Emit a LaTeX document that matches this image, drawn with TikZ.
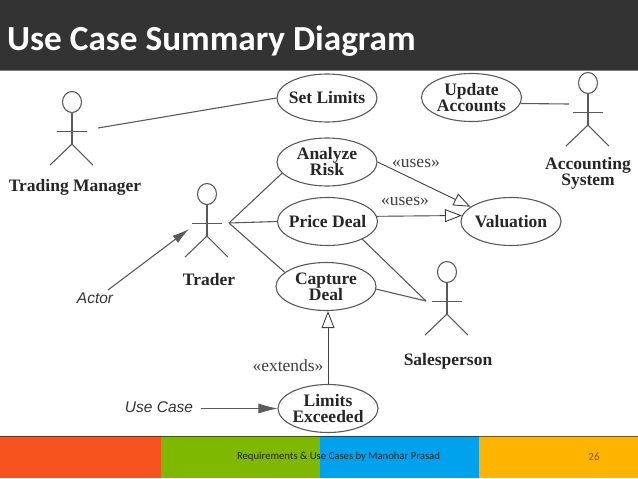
\documentclass[tikz,border=0pt]{standalone}
\usepackage{fontspec}
\setmainfont{Liberation Serif}
\setsansfont{Liberation Sans}
\newfontfamily\slidefont{Carlito}
\usetikzlibrary{shapes.geometric,arrows.meta}
\definecolor{headbar}{HTML}{333333}
\definecolor{linegray}{HTML}{5A5A5A}
\definecolor{footred}{HTML}{F55220}
\definecolor{footgreen}{HTML}{7FB800}
\definecolor{footblue}{HTML}{00A2EE}
\definecolor{footamber}{HTML}{FFB400}
\tikzset{
	usecase/.style={draw=linegray, line width=1.1pt, ellipse, minimum width=100pt, minimum height=48pt, inner sep=-6pt, align=center, font=\fontsize{17.5}{16}\selectfont\bfseries, text=black!85},
	actorhead/.style={draw=linegray, line width=1.1pt, ellipse, minimum width=19pt, minimum height=21pt, inner sep=0pt},
	actorline/.style={draw=linegray, line width=1.1pt},
	actorname/.style={align=center, font=\fontsize{17.5}{16.2}\selectfont\bfseries, text=black!85},
	assoc/.style={draw=linegray, line width=1.1pt},
	stereo/.style={font=\fontsize{17.5}{15}\selectfont, text=black!75},
	callout/.style={font=\fontsize{15.5}{16}\selectfont\sffamily\itshape, text=black!80},
	generalize/.style={draw=black!75, line width=0.9pt, -{Triangle[open,length=17pt,width=13pt]}},
	footbar/.style={anchor=north west, minimum height=42pt, inner sep=0pt, outer sep=0pt},
}
% head node plus body, arms and legs
\newcommand{\actorfig}[3]{
	\node[actorhead] (#1) at (#2,#3) {};
	\draw[actorline] (#1.south) -- ++(0,31) coordinate (#1hip);
	\draw[actorline] (#2-15,#3+29.5) -- (#2+15,#3+29.5);
	\draw[actorline] (#1hip) -- ++(-22,21);
	\draw[actorline] (#1hip) -- ++(21,21);
}
\begin{document}
\begin{tikzpicture}[x=1pt,y=-1pt]
	\useasboundingbox (0,0) rectangle (638,479);
	\fill[white] (0,0) rectangle (638,479);

	%Titelbalken
	\fill[headbar] (0,0) rectangle (638,70);
	\fill[gray] (0,70) rectangle (638,71);
	\node[anchor=west, text=white, font=\fontsize{35.2}{35}\selectfont\slidefont\bfseries, inner sep=0pt] (title) at (7,41) {Use Case Summary Diagram};

	%Fussleiste
	\node[footbar, fill=footred, minimum width=161pt] (foota) at (0,436) {};
	\node[footbar, fill=footgreen, minimum width=159pt] (footb) at (161,436) {};
	\node[footbar, fill=footblue, minimum width=159pt] (footc) at (320,436) {};
	\node[footbar, fill=footamber, minimum width=159pt] (footd) at (479,436) {};
	\fill[black, opacity=0.5] (0,436) rectangle (638,436.8);
	\node[font=\fontsize{10.7}{11}\selectfont\slidefont, text=black!85, inner sep=0pt] (footer) at (338.5,456.5) {Requirements \& Use Cases by Manohar Prasad};
	\node[font=\fontsize{11}{11}\selectfont\slidefont, text=black!50!footamber, inner sep=0pt] (slidenr) at (594,456.5) {26};

	%Use Cases
	\node[usecase] (setlimits) at (327,98) {Set Limits};
	\node[usecase] (update) at (471.5,97.5) {Update\\Accounts};
	\node[usecase] (analyze) at (327,162) {Analyze\\Risk};
	\node[usecase] (price) at (327.5,221.5) {Price Deal};
	\node[usecase] (valuation) at (511,221.5) {Valuation};
	\node[usecase] (capture) at (326,286.5) {Capture\\Deal};
	\node[usecase] (limits) at (328,408.5) {Limits\\Exceeded};

	%Akteure
	\actorfig{manager}{72}{102}
	\actorfig{trader}{207}{194}
	\actorfig{accounting}{588}{83}
	\actorfig{sales}{447}{272}
	\node[actorname] (managername) at (75,187) {Trading Manager};
	\node[actorname] (tradername) at (209,280) {Trader};
	\node[actorname] (accountingname) at (588,173.5) {Accounting\\System};
	\node[actorname] (salesname) at (448,361) {Salesperson};

	%Linienenden an den Akteuren
	\coordinate (managerend) at (98,128);
	\coordinate (accountingend) at (569,104);
	\coordinate (traderhub) at (229,223);
	\coordinate (salesend) at (426,301);
	\coordinate (actorstart) at (108,290);
	\coordinate (actortip) at (189,229);

	\draw[assoc] (managerend) -- (setlimits.west);
	\draw[assoc] (update.-7) -- (accountingend);
	\draw[assoc] (traderhub) -- (analyze.194);
	\draw[assoc] (traderhub) -- (price.west);
	\draw[assoc] (traderhub) -- (capture.161);
	\draw[assoc] (price.-27) -- (salesend);
	\draw[assoc] (capture.-3) -- (salesend);

	%Generalisierung
	\draw[generalize] (analyze.east) -- (valuation.160);
	\draw[generalize] (price.6) -- (valuation.173);
	\draw[generalize] (limits.north) -- (capture.south -| limits.north);
	\node[stereo] (usesa) at (416,163) {«uses»};
	\node[stereo] (usesb) at (405,201) {«uses»};
	\node[stereo] (extends) at (288,366) {«extends»};

	%Beschriftungspfeile
	\node[callout] (actorlabel) at (95,298) {Actor};
	\node[callout] (caselabel) at (159,407) {Use Case};
	\draw[draw=linegray, line width=1.1pt, -{Latex[length=17pt,width=9pt]}] (actorstart) -- (actortip);
	\draw[draw=linegray, line width=0.6pt, -{Latex[length=19pt,width=10pt]}] ([xshift=4pt]caselabel.east |- limits.west) -- (limits.west);
\end{tikzpicture}
\end{document}
